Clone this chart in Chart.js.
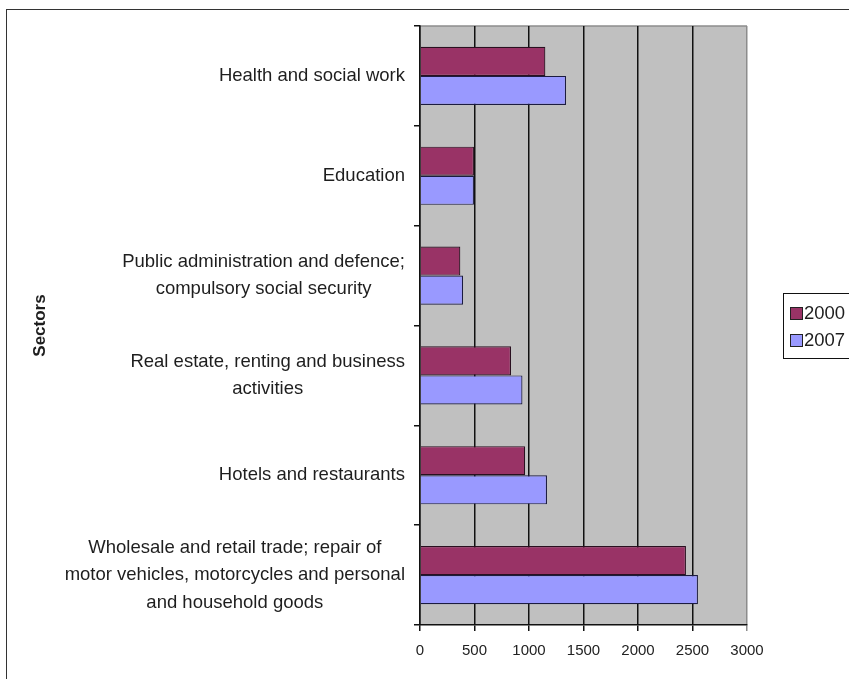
<!DOCTYPE html>
<html>
<head>
<meta charset="utf-8">
<script src="https://cdn.jsdelivr.net/npm/chart.js@4/dist/chart.umd.min.js"></script>
<style>
  html, body { margin: 0; padding: 0; background: #fff; overflow: hidden; }
  #frame { position: absolute; left: 6px; top: 9px; width: 900px; height: 720px;
           border-left: 1.5px solid #333; border-top: 1.5px solid #333; }
  #wrap { position: absolute; left: 0; top: 0; width: 849px; height: 679px; }
</style>
</head>
<body>
<div id="frame"></div>
<div id="wrap"><canvas id="c" width="849" height="679"></canvas></div>
<script>
// Sectors (multi-line labels), top to bottom
const sectors = [
  ['Health and social work'],
  ['Education'],
  ['Public administration and defence;', 'compulsory social security'],
  ['Real estate, renting and business', 'activities'],
  ['Hotels and restaurants'],
  ['Wholesale and retail trade; repair of', 'motor vehicles, motorcycles and personal', 'and household goods']
];
const years = ['2000', '2007'];
const values2000 = [1150, 495, 370, 835, 965, 2440];
const values2007 = [1340, 495, 395, 940, 1165, 2550];
const xTicks = [0, 500, 1000, 1500, 2000, 2500, 3000];

const LABEL_FONT = '18.5px "Liberation Sans", Arial, sans-serif';

// Grey plot area with a light top edge
const plotBackground = {
  id: 'plotBackground',
  beforeDraw(chart) {
    const { ctx, chartArea: a } = chart;
    ctx.save();
    ctx.fillStyle = '#C0C0C0';
    ctx.fillRect(a.left, a.top, a.right - a.left, a.bottom - a.top);
    ctx.strokeStyle = '#8c8c8c';
    ctx.lineWidth = 1.5;
    ctx.beginPath();
    ctx.moveTo(a.left, a.top);
    ctx.lineTo(a.right, a.top);
    ctx.stroke();
    ctx.restore();
  }
};

// Category labels: each block right-aligned to the axis, lines centred inside the block
const categoryLabels = {
  id: 'categoryLabels',
  afterDraw(chart) {
    const { ctx } = chart;
    const y = chart.scales.y;
    const right = y.right - 15;
    const lineH = 27.5;
    ctx.save();
    ctx.font = LABEL_FONT;
    ctx.fillStyle = '#1e1e1e';
    ctx.textAlign = 'center';
    ctx.textBaseline = 'middle';
    chart.data.labels.forEach((lines, i) => {
      const cy = y.getPixelForValue(i);
      const w = Math.max(...lines.map(l => ctx.measureText(l).width));
      const cx = right - w / 2;
      lines.forEach((l, k) => {
        ctx.fillText(l, cx, cy + (k - (lines.length - 1) / 2) * lineH);
      });
    });
    ctx.restore();
  }
};

// Boxed legend at the right edge
const boxedLegend = {
  id: 'boxedLegend',
  afterDraw(chart) {
    const { ctx } = chart;
    const left = 783, top = 293, bottom = 358;
    ctx.save();
    ctx.strokeStyle = '#111';
    ctx.lineWidth = 1;
    ctx.strokeRect(left + 0.5, top + 0.5, 120, bottom - top);
    ctx.font = LABEL_FONT;
    ctx.textAlign = 'left';
    ctx.textBaseline = 'middle';
    chart.data.datasets.forEach((ds, i) => {
      const cy = 313.5 + i * 27;
      ctx.fillStyle = ds.backgroundColor;
      ctx.fillRect(790, cy - 6.5, 13, 13);
      ctx.strokeStyle = '#222';
      ctx.strokeRect(790.5, cy - 6, 12, 12);
      ctx.fillStyle = '#1e1e1e';
      ctx.fillText(ds.label, 804, cy + 0.5);
    });
    ctx.restore();
  }
};

new Chart(document.getElementById('c'), {
  type: 'bar',
  data: {
    labels: sectors,
    datasets: [
      { label: years[0], data: values2000, backgroundColor: '#993366',
        borderColor: '#2a1020', borderWidth: 1.2 },
      { label: years[1], data: values2007, backgroundColor: '#9999FF',
        borderColor: '#1c1c40', borderWidth: 1.2 }
    ]
  },
  options: {
    indexAxis: 'y',
    responsive: false,
    animation: false,
    devicePixelRatio: 1,
    categoryPercentage: 0.583,
    barPercentage: 1,
    layout: { padding: { left: 0, top: 26, right: 102, bottom: 8 } },
    plugins: {
      legend: { display: false },
      tooltip: { enabled: false }
    },
    scales: {
      x: {
        min: 0,
        max: 3000,
        afterBuildTicks(scale) { scale.ticks = xTicks.map(v => ({ value: v })); },
        grid: {
          color: c => (c.tick && c.tick.value === 3000) ? '#8c8c8c' : '#111',
          lineWidth: 1.5,
          tickLength: 6
        },
        border: { color: '#111', width: 1.5 },
        ticks: {
          font: { family: '"Liberation Sans", Arial, sans-serif', size: 15 },
          color: '#222',
          padding: 11,
          maxRotation: 0,
          callback: v => String(v)
        }
      },
      y: {
        offset: true,
        afterFit(scale) { scale.width = 420; },
        grid: {
          offset: true,
          drawOnChartArea: false,
          color: '#111',
          lineWidth: 1.5,
          tickLength: 6
        },
        border: { color: '#111', width: 1.5 },
        ticks: { display: false },
        title: {
          display: true,
          text: 'Sectors',
          font: { family: '"Liberation Sans", Arial, sans-serif', size: 17, weight: 'bold' },
          color: '#1e1e1e',
          padding: { top: 30, bottom: 0 }
        }
      }
    }
  },
  plugins: [plotBackground, categoryLabels, boxedLegend]
});
</script>
</body>
</html>
